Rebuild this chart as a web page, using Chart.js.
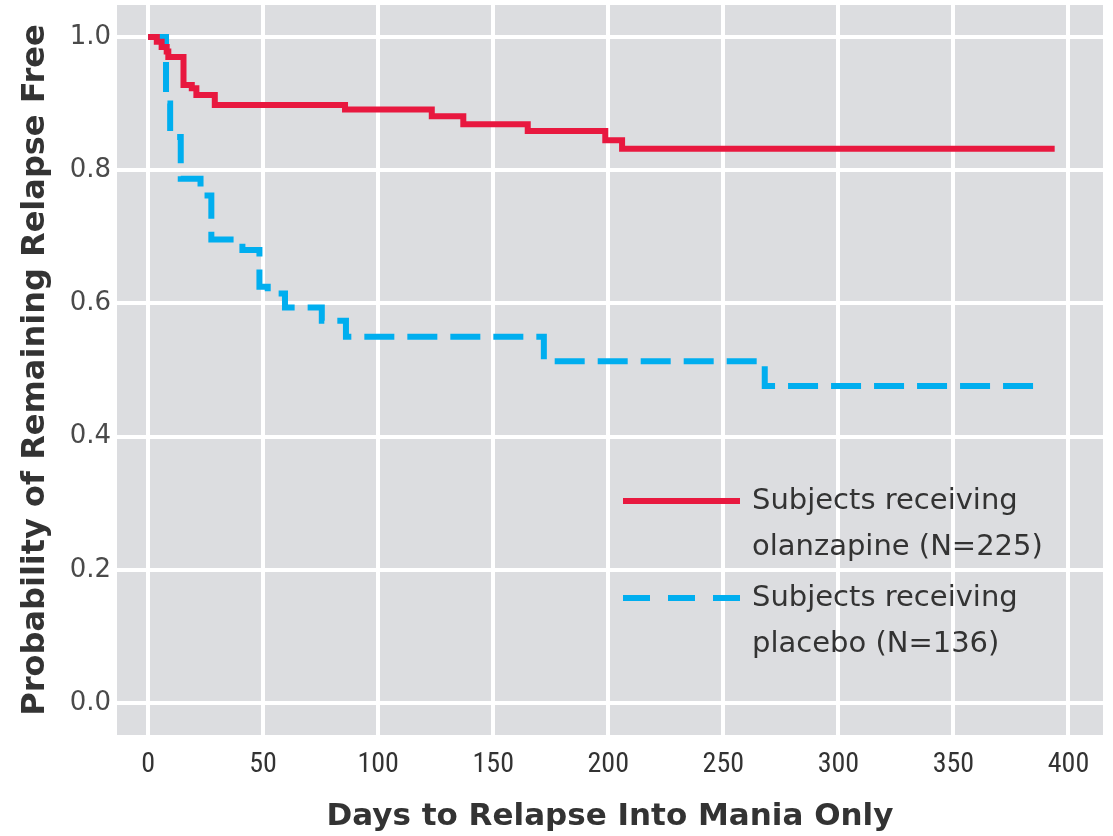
<!DOCTYPE html>
<html>
<head>
<meta charset="utf-8">
<script src="https://cdn.jsdelivr.net/npm/chart.js@4.4.1/dist/chart.umd.min.js"></script>
<style>
  html, body { margin: 0; padding: 0; background: #fff; }
  #wrap { width: 1113px; height: 836px; }
</style>
</head>
<body>
<div id="wrap"><canvas id="myChart" width="1113" height="836"></canvas></div>
<script>
// Kaplan-Meier steps: day of event, survival after that event
const olanzapineDays = [0, 3.8, 5.9, 8.1, 8.8, 15.4, 19, 21, 29, 85.6, 123.3, 137, 165, 198.7, 206, 394];
const olanzapineSurvival = [1.0, 0.993, 0.985, 0.978, 0.970, 0.928, 0.923, 0.913, 0.898, 0.891, 0.881, 0.869, 0.859, 0.845, 0.832, 0.832];

const placeboDays = [0, 7.8, 9.6, 14.2, 22.8, 27.5, 41, 48.4, 52, 59.5, 75.5, 86, 172, 268, 390];
const placeboSurvival = [1.0, 0.90, 0.85, 0.787, 0.762, 0.696, 0.68, 0.625, 0.615, 0.594, 0.574, 0.55, 0.513, 0.476, 0.476];

const xTicks = [0, 50, 100, 150, 200, 250, 300, 350, 400];
const yTicks = [0, 0.2, 0.4, 0.6, 0.8, 1.0];

const seriesLabels = [
  ['Subjects receiving', 'olanzapine (N=225)'],
  ['Subjects receiving', 'placebo (N=136)']
];

const red = '#e8183f';
const blue = '#00aeef';

function toPoints(days, vals) {
  return days.map((d, i) => ({ x: d, y: vals[i] }));
}

// gray panel behind the plot
const panelBg = {
  id: 'panelBg',
  beforeDraw(chart) {
    const { ctx, chartArea: a } = chart;
    ctx.save();
    ctx.fillStyle = '#dcdde0';
    ctx.fillRect(a.left, a.top, a.right - a.left, a.bottom - a.top);
    ctx.restore();
  }
};

// legend drawn inside the panel, lower right
const insetLegend = {
  id: 'insetLegend',
  afterDatasetsDraw(chart) {
    const { ctx, chartArea: a } = chart;
    const x0 = a.left + 506, x1 = a.left + 623, tx = a.left + 635;
    const rows = [a.top + 496, a.top + 593];
    ctx.save();
    ctx.font = '29px "DejaVu Sans"';
    ctx.textBaseline = 'middle';
    chart.data.datasets.forEach((ds, i) => {
      const y = rows[i];
      ctx.beginPath();
      ctx.lineWidth = 6;
      ctx.strokeStyle = ds.borderColor;
      ctx.setLineDash(i === 1 ? [27, 18] : []);
      ctx.moveTo(x0, y);
      ctx.lineTo(x1, y);
      ctx.stroke();
      ctx.setLineDash([]);
      ctx.fillStyle = '#333';
      ds.label.forEach((line, k) => ctx.fillText(line, tx, y + k * 46));
    });
    ctx.restore();
  }
};

const ctx = document.getElementById('myChart').getContext('2d');
const myChart = new Chart(ctx, {
  type: 'line',
  data: {
    datasets: [
      {
        label: seriesLabels[0],
        data: toPoints(olanzapineDays, olanzapineSurvival),
        borderColor: red,
        borderWidth: 6,
        stepped: 'before',
        pointRadius: 0,
        fill: false
      },
      {
        label: seriesLabels[1],
        data: toPoints(placeboDays, placeboSurvival),
        borderColor: blue,
        borderWidth: 6,
        borderDash: [30, 13],
        stepped: 'before',
        pointRadius: 0,
        fill: false
      }
    ]
  },
  options: {
    responsive: false,
    animation: false,
    layout: { padding: { top: 5, right: 10, left: 0, bottom: 0 } },
    plugins: { legend: { display: false }, tooltip: { enabled: false } },
    scales: {
      x: {
        type: 'linear',
        min: -13.5,
        max: 415,
        afterBuildTicks: s => { s.ticks = xTicks.map(v => ({ value: v })); },
        afterFit: s => { s.height = 101; s.paddingLeft = 0; s.paddingRight = 0; },
        border: { display: false },
        grid: { color: '#ffffff', lineWidth: 4, drawTicks: false },
        ticks: {
          padding: 13,
          color: '#333',
          font: { family: '"Liberation Sans Narrow", "Roboto Condensed", "Open Sans"', size: 28 },
          callback: v => String(v)
        },
        title: {
          display: true,
          text: 'Days to Relapse Into Mania Only',
          color: '#333',
          font: { family: '"DejaVu Sans"', size: 31, weight: 'bold', lineHeight: 1.2 },
          padding: { top: 0, bottom: 0 }
        }
      },
      y: {
        min: -0.048,
        max: 1.048,
        afterBuildTicks: s => { s.ticks = yTicks.map(v => ({ value: v })); },
        afterFit: s => { s.width = 117; s.paddingTop = 0; s.paddingBottom = 0; },
        border: { display: false },
        grid: { color: '#ffffff', lineWidth: 4, drawTicks: false },
        ticks: {
          padding: 6,
          color: '#4a4a4a',
          font: { family: '"DejaVu Sans"', size: 26 },
          callback: v => v.toFixed(1)
        },
        title: {
          display: true,
          text: 'Probability of Remaining Relapse Free',
          color: '#333',
          font: { family: '"DejaVu Sans"', size: 32, weight: 'bold', lineHeight: 1.2 },
          padding: { top: 16, bottom: 0 }
        }
      }
    }
  },
  plugins: [panelBg, insetLegend]
});
</script>
</body>
</html>
